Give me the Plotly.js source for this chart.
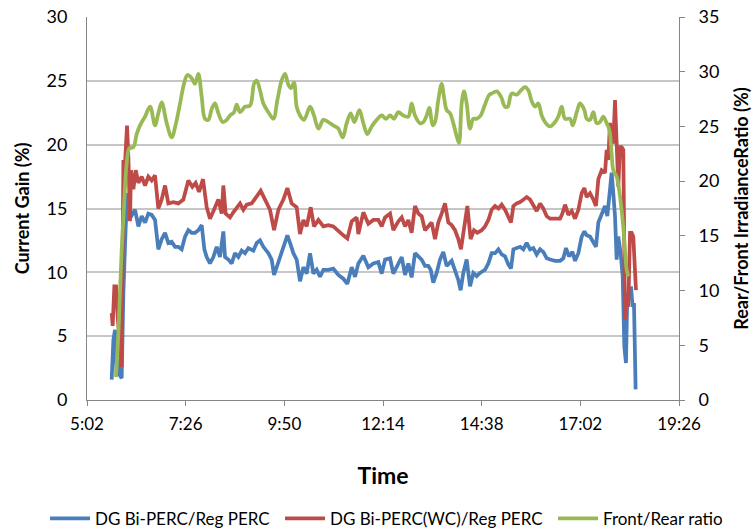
<!DOCTYPE html>
<html>
<head>
<meta charset="utf-8">
<script src="https://cdn.plot.ly/plotly-3.0.1.min.js"></script>
<style>html,body{margin:0;padding:0;background:#fff;}#chart{width:752px;height:529px;}</style>
</head>
<body>
<div id="chart"></div>
<script>
// Time values are minutes after midnight
const tickLabels = ["5:02","7:26","9:50","12:14","14:38","17:02","19:26"];

const seriesNames = ["DG Bi-PERC/Reg PERC","DG Bi-PERC(WC)/Reg PERC","Front/Rear ratio"];

const blueTime = [338.0,340.5,342.9,345.3,347.8,350.2,352.6,355.1,358.5,361.4,363.3,367.2,372.1,377.0,381.8,386.7,391.5,396.4,401.3,406.1,411.0,415.9,420.7,425.6,430.5,435.3,440.2,445.1,449.9,454.8,459.7,464.5,469.4,473.3,
476.7,481.5,486.4,491.3,496.1,501.0,503.4,508.3,513.2,518.0,522.9,527.8,532.6,537.5,544.8,549.7,554.5,559.4,566.7,571.5,575.0,578.8,583.7,588.6,594.4,598.3,603.2,608.0,612.9,617.8,622.6,627.5,632.4,637.2,642.1,647.0,654.3,661.5,668.8,676.1,682.0,688.3,693.2,698.0,705.3,712.6,719.9,727.2,732.1,737.0,744.3,749.1,754.0,761.3,766.2,771.0,
775.8,780.7,785.6,790.4,795.3,800.1,803.6,807.4,812.3,817.2,822.0,826.9,834.2,839.1,843.9,847.3,851.2,856.1,861.0,865.8,870.7,875.6,882.9,
887.8,892.6,897.5,902.4,907.2,912.1,917.0,920.8,924.3,929.1,934.0,938.8,943.7,948.6,953.4,958.3,963.2,968.0,972.9,977.8,985.1,992.4,997.2,1001.1,1005.5,1010.4,1014.3,1019.1,1024.0,1027.9,
1031.2,1036.1,1041.0,1044.8,1048.3,1053.1,1058.0,1061.4,1065.3,1067.7,1070.1,1072.6,1075.0,1077.4,1080.8,1083.8,1086.2,1088.6,1090.6,1093.5,1095.9,1098.4,1100.3,1102.7];
const blueGain = [1.6,4.7,5.5,1.9,3.2,1.9,1.7,8.4,13.6,16.2,14.1,14.4,14.9,13.6,14.4,13.9,14.6,14.5,14.1,11.8,12.6,13.1,12.3,12.4,12.0,12.0,11.8,12.8,13.3,13.1,13.1,13.3,13.7,11.8,
11.2,10.7,11.2,12.0,11.2,13.2,11.2,11.0,10.7,11.5,11.2,11.7,11.5,11.9,11.7,12.3,12.5,12.0,11.5,11.0,9.8,10.4,11.2,12.0,12.9,12.3,11.5,11.0,9.3,10.4,9.9,11.5,9.9,10.2,9.65,10.2,10.2,10.3,9.8,9.5,9.1,10.4,9.65,10.7,11.3,10.4,10.7,10.8,9.9,11.0,11.1,9.9,10.4,11.2,9.8,10.7,
9.6,11.5,11.25,11.0,10.5,10.5,10.2,9.2,9.95,11.0,11.6,10.5,10.9,10.2,9.4,8.6,9.95,11.0,8.9,9.95,9.7,9.95,10.2,
10.7,11.5,11.5,11.8,11.4,11.25,10.6,10.3,11.8,11.9,12.0,11.8,12.3,11.8,11.9,11.4,11.8,11.6,11.1,11.0,10.9,10.9,11.1,11.9,11.25,11.6,10.9,11.5,12.8,13.2,
12.9,12.8,12.4,12.0,13.9,14.6,15.2,14.4,16.7,17.8,16.2,14.4,11.0,12.8,11.5,9.7,4.2,2.9,8.4,7.9,8.9,7.3,7.6,0.83];

const redTime = [338.0,339.5,341.9,344.4,346.8,350.2,352.6,355.1,357.5,360.4,362.4,364.8,366.2,369.7,373.1,377.0,381.8,386.7,391.5,396.4,401.3,406.1,411.0,415.9,420.7,428.0,435.3,442.6,449.9,455.8,460.6,465.5,471.3,
476.7,481.5,487.4,493.7,498.6,501.0,504.4,510.7,515.6,520.5,525.3,530.2,535.1,542.4,549.7,555.5,561.8,569.1,575.0,581.3,588.6,594.4,600.7,608.0,612.9,617.8,622.6,628.5,633.3,639.7,647.0,654.3,661.5,668.8,676.1,682.0,688.3,695.6,698.0,705.3,712.6,719.9,727.2,732.1,737.0,744.3,749.1,756.4,761.3,766.2,771.0,
775.8,780.7,785.6,790.4,795.3,800.1,805.0,809.9,814.7,819.6,824.5,829.3,834.2,839.1,843.9,847.8,852.2,857.1,861.9,866.8,871.7,878.0,882.9,
887.8,892.6,897.5,902.4,907.2,912.1,917.0,920.8,924.3,929.1,934.0,938.8,943.7,948.6,953.4,958.3,963.2,968.0,972.9,977.8,985.1,992.4,995.8,999.7,1004.5,1009.4,1014.3,1019.1,1024.0,1027.9,
1031.2,1036.1,1041.0,1044.8,1048.3,1053.1,1058.0,1060.4,1062.8,1065.3,1067.7,1070.1,1072.6,1075.0,1077.4,1079.9,1082.3,1084.7,1087.2,1089.6,1092.0,1094.5,1096.9,1099.3,1101.8,1103.2];
const redGain = [6.8,5.8,8.9,8.9,6.5,4.5,2.6,18.8,18.5,21.5,19.0,14.0,18.0,16.5,18.0,17.0,17.5,16.8,17.5,17.2,17.6,15.0,15.7,16.8,15.4,15.5,15.4,15.7,17.2,16.7,17.0,16.3,17.3,
15.1,14.2,14.9,15.7,14.6,16.8,14.6,14.3,14.7,15.1,15.4,14.9,15.3,15.4,15.9,16.4,15.7,14.9,13.3,14.9,15.7,16.6,15.4,15.1,13.0,14.1,13.6,15.1,13.6,14.1,13.6,13.7,13.6,13.2,12.9,12.65,14.0,14.3,13.0,14.7,13.8,14.1,14.1,13.6,14.3,14.6,13.3,14.0,14.3,13.6,14.1,
13.1,15.2,14.6,14.4,13.3,13.6,13.9,12.6,13.9,14.6,15.4,13.9,13.7,13.3,12.6,11.8,13.6,15.2,12.6,13.3,13.1,13.3,13.6,
14.1,14.9,15.2,15.0,15.3,14.9,14.4,13.9,15.2,15.4,15.5,15.7,15.9,15.7,15.2,14.8,15.4,15.0,14.4,14.2,14.2,14.2,14.6,15.3,14.5,14.8,14.2,14.9,16.2,16.6,
15.9,16.2,15.7,15.2,17.3,18.0,17.8,19.6,18.8,21.7,20.4,20.1,23.5,19.3,16.7,19.8,19.8,19.6,6.3,7.9,7.3,13.1,13.1,12.8,10.4,8.6];

const greenTime = [344.3,347.8,352.6,356.5,359.9,363.8,369.6,374.5,379.4,386.7,394.0,401.3,406.1,411.0,418.3,425.6,431.9,437.8,443.6,448.5,454.8,459.6,464.5,469.4,474.2,479.1,484.0,488.8,493.7,500.0,505.9,510.7,516.6,520.5,525.3,532.6,539.9,545.8,549.7,554.5,559.4,566.7,574.0,579.8,586.1,591.0,595.9,599.8,604.1,608.0,612.9,618.7,627.5,633.3,639.7,647.0,654.3,661.5,668.8,675.2,681.0,686.9,692.2,699.5,705.3,711.2,717.5,724.8,732.1,738.4,744.3,750.1,756.4,763.7,771.0,
775.8,780.7,788.0,792.9,797.7,801.6,806.5,809.9,814.7,819.6,823.0,826.9,831.8,836.6,841.5,844.9,848.8,852.2,856.1,861.0,865.8,870.7,876.5,882.9,889.2,
892.6,899.9,906.3,912.1,916.0,921.8,929.1,934.0,941.3,946.1,951.0,955.9,960.7,965.6,970.5,977.8,985.1,989.9,994.8,999.7,1007.0,1010.9,1016.7,1021.6,1027.9,
1031.2,1036.1,1041.0,1045.8,1050.7,1055.6,1060.4,1064.3,1067.7,1070.1,1075.0,1079.9,1084.7,1089.6,1092.0];
const greenRatio = [2.1,6.1,13.7,18.3,21.6,23.0,23.1,24.3,25.1,25.9,26.8,25.1,26.2,27.2,25.3,24.0,25.3,27.1,28.9,29.7,29.4,28.9,29.8,27.7,25.7,25.6,26.6,27.1,26.2,25.4,25.6,26.0,26.3,27.0,26.3,26.8,26.9,28.9,29.2,28.3,27.1,26.3,25.7,27.4,29.2,29.8,28.8,28.5,29.0,26.8,26.0,25.6,26.8,26.0,24.8,25.6,25.4,25.1,24.8,24.0,25.3,26.2,25.4,26.5,25.3,24.3,25.0,25.6,26.0,25.7,26.0,25.7,26.3,26.0,25.9,
27.1,26.0,25.3,25.4,26.0,26.7,25.1,25.4,27.4,28.9,27.7,26.5,26.2,25.3,24.1,23.5,27.1,28.2,27.1,24.8,25.7,25.7,26.0,27.0,27.9,
28.0,28.2,27.7,26.8,26.8,28.0,27.9,28.2,28.6,28.3,27.3,26.8,27.1,26.0,25.4,25.0,25.4,25.9,26.8,25.7,25.7,25.1,26.3,27.1,26.5,
25.7,25.6,26.3,25.3,25.4,25.9,25.3,24.7,22.5,21.0,20.4,18.6,15.8,11.9,11.3];

const colors = ["#4A7EBB","#BE4B48","#98B954"];

function toMin(s){ const p = s.split(":"); return (+p[0])*60 + (+p[1]); }
const tickVals = tickLabels.map(toMin);

const font = "Lato, Liberation Sans, Arial, sans-serif";

const traces = [
  {x: blueTime, y: blueGain, name: seriesNames[0], type: "scatter", mode: "lines",
   line: {color: colors[0], width: 3.75, shape: "linear"}, yaxis: "y", legend: "legend"},
  {x: redTime, y: redGain, name: seriesNames[1], type: "scatter", mode: "lines",
   line: {color: colors[1], width: 3.75}, yaxis: "y", legend: "legend2"},
  {x: greenTime, y: greenRatio, name: seriesNames[2], type: "scatter", mode: "lines",
   line: {color: colors[2], width: 3.75, shape: "spline", smoothing: 1}, yaxis: "y2", legend: "legend3"}
];

const legBase = {orientation: "h", yanchor: "middle", y: -0.31, xanchor: "left",
  font: {family: font, size: 17, color: "#000"}, bgcolor: "rgba(0,0,0,0)", itemwidth: 40, tracegroupgap: 0};

const layout = {
  width: 752, height: 529,
  margin: {l: 87, r: 73, t: 17, b: 129, pad: 0, autoexpand: false},
  paper_bgcolor: "#fff", plot_bgcolor: "#fff",
  font: {family: font, size: 17, color: "#000"},
  showlegend: true,
  xaxis: {
    range: [tickVals[0], tickVals[tickVals.length-1]],
    tickvals: tickVals, ticktext: tickLabels,
    showgrid: false, zeroline: false,
    showline: true, linecolor: "#868686", linewidth: 1,
    ticks: "outside", ticklen: 5, tickcolor: "#868686",
    ticklabelstandoff: 4,
    tickfont: {family: font, size: 17, color: "#000"},
    title: {text: "Time", font: {family: font, size: 23, color: "#000", weight: "bold"}, standoff: 34},
    automargin: false
  },
  yaxis: {
    range: [0, 30], dtick: 5, tick0: 0,
    showgrid: true, gridcolor: "#C6C6C6", gridwidth: 2,
    zeroline: false, showline: true, linecolor: "#868686", linewidth: 1,
    ticks: "", ticklabelstandoff: 15,
    tickfont: {family: font, size: 18, color: "#000"},
    title: {text: "Current Gain (%)", font: {family: font, size: 18, color: "#000", weight: "bold"}, standoff: 12},
    automargin: false
  },
  yaxis2: {
    range: [0, 35], dtick: 5, tick0: 0, overlaying: "y", side: "right",
    showgrid: false, zeroline: false, showline: true, linecolor: "#868686", linewidth: 1,
    ticks: "outside", ticklen: 5, tickcolor: "#868686", ticklabelstandoff: 10,
    tickfont: {family: font, size: 18, color: "#000"},
    title: {text: "Rear/Front IrradianceRatio (%)", font: {family: font, size: 18, color: "#000", weight: "bold"}, standoff: 18},
    automargin: false
  },
  legend: Object.assign({}, legBase, {x: (45-87)/592}),
  legend2: Object.assign({}, legBase, {x: (280-87)/592}),
  legend3: Object.assign({}, legBase, {x: (553-87)/592})
};

Plotly.newPlot("chart", traces, layout, {displayModeBar: false, staticPlot: true});
</script>
</body>
</html>
